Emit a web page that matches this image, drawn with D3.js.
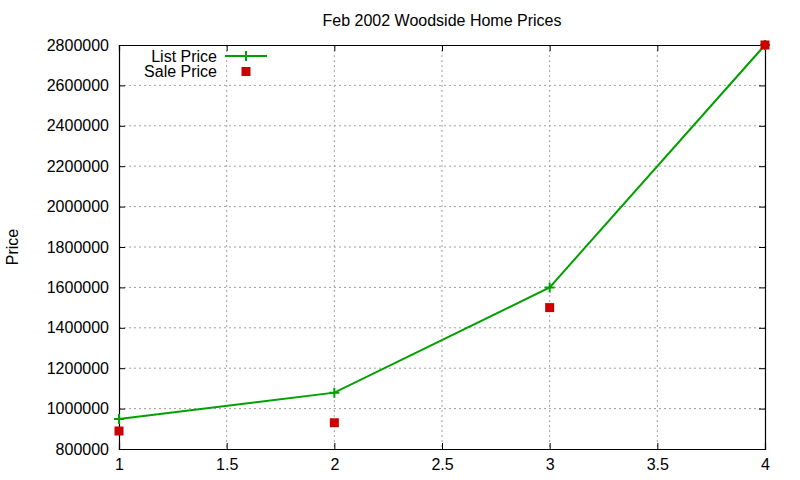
<!DOCTYPE html>
<html>
<head>
<meta charset="utf-8">
<script src="https://cdn.jsdelivr.net/npm/d3@7.9.0/dist/d3.min.js"></script>
<style>
  body { margin: 0; background: #fff; }
  svg text { font-family: "Liberation Sans", Arial, sans-serif; font-size: 16px; fill: #000; }
</style>
</head>
<body>
<svg width="800" height="480"></svg>
<script>
const xs = [1, 2, 3, 4];
const listPrice = [949000, 1079000, 1600000, 2800000];
const salePrice = [889000, 930000, 1500000, 2800000];
const xTicks = [1, 1.5, 2, 2.5, 3, 3.5, 4];
const yTicks = [800000, 1000000, 1200000, 1400000, 1600000, 1800000, 2000000, 2200000, 2400000, 2600000, 2800000];

const svg = d3.select('svg');
const plotLeft = 119, plotRight = 765, plotTop = 45, plotBottom = 449;

let x = d3.scaleLinear().domain([1, 4]).range([plotLeft, plotRight]);
let y = d3.scaleLinear().domain([800000, 2800000]).range([plotBottom, plotTop]);

// grid
svg.append('g').selectAll('line').data(xTicks.slice(1, -1)).join('line')
  .attr('x1', d => x(d)).attr('x2', d => x(d)).attr('y1', plotTop).attr('y2', plotBottom)
  .attr('stroke', '#a0a0a0').attr('stroke-dasharray', '2,3');
svg.append('g').selectAll('line').data(yTicks.slice(1, -1)).join('line')
  .attr('y1', d => y(d)).attr('y2', d => y(d)).attr('x1', plotLeft).attr('x2', plotRight)
  .attr('stroke', '#a0a0a0').attr('stroke-dasharray', '2,3');

// axes, ticks pointing inward on all sides
const tick = 6;
svg.append('g').attr('transform', `translate(0,${plotBottom})`)
  .call(d3.axisBottom(x).tickValues(xTicks).tickSize(-tick).tickPadding(10).tickFormat(d3.format('')));
svg.append('g').attr('transform', `translate(0,${plotTop})`)
  .call(d3.axisTop(x).tickValues(xTicks).tickSize(-tick).tickFormat(''));
svg.append('g').attr('transform', `translate(${plotLeft},0)`)
  .call(d3.axisLeft(y).tickValues(yTicks).tickSize(-tick).tickPadding(10).tickFormat(d3.format('d')));
svg.append('g').attr('transform', `translate(${plotRight},0)`)
  .call(d3.axisRight(y).tickValues(yTicks).tickSize(-tick).tickFormat(''));
svg.selectAll('.domain').attr('stroke', '#000').attr('stroke-width', 1.2);
svg.selectAll('.tick line').attr('stroke', '#000');
svg.selectAll('.tick text').style('font-size', '16px').attr('fill', '#000');

// list price line
const green = '#00a000';
let line = d3.line().x((d, i) => x(xs[i])).y(d => y(d));
svg.append('path').datum(listPrice).attr('d', line)
  .attr('fill', 'none').attr('stroke', green).attr('stroke-width', 2);
svg.append('g').selectAll('path').data(listPrice).join('path')
  .attr('d', (d, i) => `M${x(xs[i]) - 5},${y(d)}h10M${x(xs[i])},${y(d) - 5}v10`)
  .attr('stroke', green).attr('stroke-width', 2);

// sale price points
const red = '#cc0000';
svg.append('g').selectAll('rect').data(salePrice).join('rect')
  .attr('x', (d, i) => x(xs[i]) - 4.5).attr('y', d => y(d) - 4.5)
  .attr('width', 9).attr('height', 9).attr('fill', red);

// title and labels
svg.append('text').attr('x', 442).attr('y', 26).attr('text-anchor', 'middle')
  .text('Feb 2002 Woodside Home Prices');
svg.append('text').attr('transform', 'translate(18,247) rotate(-90)')
  .attr('text-anchor', 'middle').text('Price');

// legend
const legend = svg.append('g');
legend.append('text').attr('x', 217).attr('y', 62).attr('text-anchor', 'end').text('List Price');
legend.append('line').attr('x1', 225).attr('x2', 267).attr('y1', 56).attr('y2', 56)
  .attr('stroke', green).attr('stroke-width', 2);
legend.append('path').attr('d', 'M241,56h10M246,51v10').attr('stroke', green).attr('stroke-width', 2);
legend.append('text').attr('x', 217).attr('y', 77).attr('text-anchor', 'end').text('Sale Price');
legend.append('rect').attr('x', 241.5).attr('y', 67).attr('width', 9).attr('height', 9).attr('fill', red);
</script>
</body>
</html>
